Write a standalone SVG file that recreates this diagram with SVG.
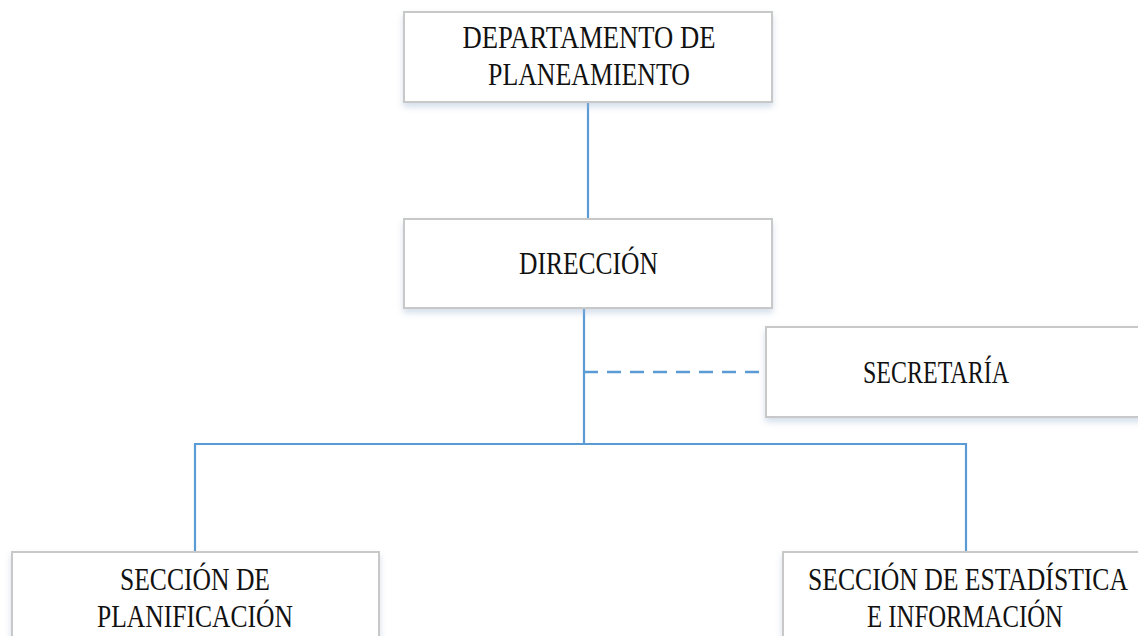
<svg xmlns="http://www.w3.org/2000/svg" width="1138" height="636" viewBox="0 0 1138 636">
<style>
.box{fill:#ffffff;stroke:#c8c8c8;stroke-width:2;filter:url(#sh)}
.t{font-family:"Liberation Serif","Times New Roman",serif;font-size:31px;fill:#111111;text-anchor:middle}
.c{stroke:#5b9bd5;stroke-width:2.2;fill:none}
.d{stroke:#5b9bd5;stroke-width:2.5;fill:none;stroke-dasharray:14 9}
</style>
<defs>
<filter id="sh" x="-5%" y="-10%" width="110%" height="130%">
<feDropShadow dx="0" dy="4" stdDeviation="3" flood-color="#9fb6d0" flood-opacity="0.45"/>
</filter>
</defs>
<rect width="1138" height="636" fill="#ffffff"/>
<g id="connectors">
<line class="c" x1="588" y1="102" x2="588" y2="219"/>
<line class="c" x1="584" y1="308" x2="584" y2="444"/>
<line class="d" x1="584" y1="372" x2="766" y2="372"/>
<polyline class="c" points="195,552 195,444 966,444 966,552"/>
</g>
<g id="n-departamento">
<rect class="box" x="404" y="12" width="368" height="90"/>
<text class="t" x="589" y="48" textLength="253" lengthAdjust="spacingAndGlyphs">DEPARTAMENTO DE</text>
<text class="t" x="589" y="85" textLength="202" lengthAdjust="spacingAndGlyphs">PLANEAMIENTO</text>
</g>
<g id="n-direccion">
<rect class="box" x="404" y="219" width="368" height="89"/>
<text class="t" x="588.5" y="274" textLength="139" lengthAdjust="spacingAndGlyphs">DIRECCIÓN</text>
</g>
<g id="n-secretaria">
<rect class="box" x="766" y="327" width="380" height="90"/>
<text class="t" x="936" y="383" textLength="146" lengthAdjust="spacingAndGlyphs">SECRETARÍA</text>
</g>
<g id="n-planificacion">
<rect class="box" x="12" y="552" width="367" height="100"/>
<text class="t" x="195" y="590" textLength="150" lengthAdjust="spacingAndGlyphs">SECCIÓN DE</text>
<text class="t" x="195" y="627" textLength="196" lengthAdjust="spacingAndGlyphs">PLANIFICACIÓN</text>
</g>
<g id="n-estadistica">
<rect class="box" x="783" y="552" width="370" height="100"/>
<text class="t" transform="translate(968 590) scale(0.828 1)" x="0" y="0">SECCIÓN DE ESTADÍSTICA</text>
<text class="t" x="965" y="627" textLength="196" lengthAdjust="spacingAndGlyphs">E INFORMACIÓN</text>
</g>
</svg>
